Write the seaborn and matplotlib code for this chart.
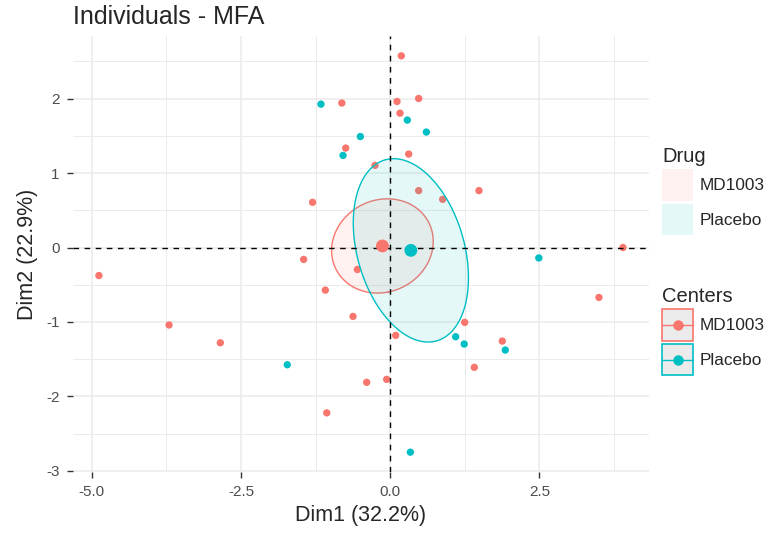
import matplotlib
matplotlib.use("Agg")
import matplotlib.pyplot as plt
import numpy as np
import pandas as pd
import seaborn as sns
from matplotlib.legend_handler import HandlerBase
from matplotlib.lines import Line2D
from matplotlib.patches import Patch, Rectangle

# individual coordinates
md1003_dim1 = [-0.81, -0.745, -1.30, -1.45, 0.186, 0.114, 0.477, 0.164, 0.31, -0.255,
               0.477, 1.487, 0.879, 3.90, -4.88, -0.55, -1.087, -0.623, -3.705, -2.846,
               -1.063, 1.248, 0.092, 1.878, 3.497, 1.409, -0.394, -0.059]
md1003_dim2 = [1.94, 1.335, 0.607, -0.16, 2.574, 1.961, 2.001, 1.804, 1.255, 1.103,
               0.764, 0.764, 0.647, 0.0, -0.376, -0.295, -0.572, -0.925, -1.04, -1.279,
               -2.22, -1.005, -1.18, -1.256, -0.67, -1.609, -1.81, -1.77]
placebo_dim1 = [-1.16, -0.50, -0.79, 0.287, 0.605, 2.49, -1.724, 1.097, 1.24, 1.928, 0.337]
placebo_dim2 = [1.925, 1.49, 1.237, 1.711, 1.55, -0.14, -1.574, -1.198, -1.296, -1.377, -2.748]

drugs = ["MD1003", "Placebo"]
x_ticks = [-5.0, -2.5, 0.0, 2.5]
y_ticks = [-3, -2, -1, 0, 1, 2]
palette = {"MD1003": "#F8766D", "Placebo": "#00BFC4"}

df = pd.DataFrame({
    "Dim1": md1003_dim1 + placebo_dim1,
    "Dim2": md1003_dim2 + placebo_dim2,
    "Drug": ["MD1003"] * len(md1003_dim1) + ["Placebo"] * len(placebo_dim1),
})
centers = df.groupby("Drug")[["Dim1", "Dim2"]].mean().reset_index()


class CenterKey(HandlerBase):
    # grey box with coloured border, line and dot, like the ggplot key
    def create_artists(self, legend, orig_handle, xdescent, ydescent, width, height,
                       fontsize, trans):
        color = orig_handle.get_color()
        x0, y0 = -xdescent, -ydescent
        yc = y0 + height / 2
        box = Rectangle((x0, y0), width, height, facecolor="#EBEBEB", edgecolor=color,
                        lw=1.2, transform=trans)
        line = Line2D([x0, x0 + width], [yc, yc], color=color, lw=1.0, transform=trans)
        dot = Line2D([x0 + width / 2], [yc], color=color, lw=0, marker="o",
                     markersize=7.5, markeredgewidth=0, transform=trans)
        return [box, line, dot]


sns.set_style("white")
plt.rcParams["font.family"] = ["Liberation Sans", "DejaVu Sans"]
plt.rcParams["axes.unicode_minus"] = False

fig, ax = plt.subplots(figsize=(7.81, 5.33), dpi=100)
fig.subplots_adjust(left=72.7 / 781, right=649.2 / 781, top=1 - 36 / 533, bottom=1 - 472 / 533)

sns.scatterplot(data=df, x="Dim1", y="Dim2", hue="Drug", palette=palette, s=28,
                linewidth=0, legend=False, ax=ax, zorder=2)

# 95% confidence ellipses around the group means
chi2_95 = 5.991
t = np.linspace(0, 2 * np.pi, 300)
circle = np.vstack([np.cos(t), np.sin(t)])
for drug in drugs:
    xy = df.loc[df["Drug"] == drug, ["Dim1", "Dim2"]].to_numpy()
    mu = xy.mean(axis=0)
    cov = np.cov(xy.T) / len(xy)
    vals, vecs = np.linalg.eigh(cov)
    pts = mu[:, None] + vecs @ (np.sqrt(vals * chi2_95)[:, None] * circle)
    ax.fill(pts[0], pts[1], facecolor=palette[drug], alpha=0.1, edgecolor="none", zorder=3)
    ax.plot(pts[0], pts[1], color=palette[drug], lw=1.0, zorder=3)

ax.axhline(0, color="black", lw=1.0, ls=(0, (4, 4)), zorder=4)
ax.axvline(0, color="black", lw=1.0, ls=(0, (4, 4)), zorder=4)

sns.scatterplot(data=centers, x="Dim1", y="Dim2", hue="Drug", palette=palette, s=85,
                linewidth=0, legend=False, ax=ax, zorder=5)

# ggplot-like 5% expansion
xr = df["Dim1"].max() - df["Dim1"].min()
yr = df["Dim2"].max() - df["Dim2"].min()
ax.set_xlim(df["Dim1"].min() - 0.05 * xr, df["Dim1"].max() + 0.05 * xr)
ax.set_ylim(df["Dim2"].min() - 0.05 * yr, df["Dim2"].max() + 0.05 * yr)

ax.set_xticks(x_ticks)
ax.set_xticklabels([f"{v:.1f}" for v in x_ticks])
ax.set_yticks(y_ticks)
ax.set_yticklabels([str(v) for v in y_ticks])
ax.set_xticks([-3.75, -1.25, 1.25, 3.75], minor=True)
ax.set_yticks([-2.5, -1.5, -0.5, 0.5, 1.5, 2.5], minor=True)
ax.grid(which="major", color="#EBEBEB", lw=1.1)
ax.grid(which="minor", color="#EBEBEB", lw=0.7)
ax.set_axisbelow(True)
ax.tick_params(which="major", length=4.5, width=1.0, color="#333333", labelsize=11,
               labelcolor="#4D4D4D", pad=5, bottom=True, left=True)
ax.tick_params(which="minor", length=0)
for s in ax.spines.values():
    s.set_visible(False)

ax.set_xlabel("Dim1 (32.2%)", fontsize=15.5, labelpad=4)
ax.set_ylabel("Dim2 (22.9%)", fontsize=15.5, labelpad=6)
ax.set_title("Individuals - MFA", loc="left", fontsize=18, pad=9)

legend_kw = dict(loc="upper left", frameon=False, fontsize=12.4, title_fontsize=14.5,
                 handlelength=1.8, handleheight=2.4, labelspacing=0.2, handletextpad=0.4,
                 borderpad=0, borderaxespad=0, alignment="left")

drug_handles = [Patch(facecolor=palette[d], alpha=0.1, edgecolor="none") for d in drugs]
leg1 = fig.legend(drug_handles, drugs, title="Drug",
                  bbox_to_anchor=(662 / 781, 1 - 147 / 533), **legend_kw)

center_handles = [Line2D([], [], color=palette[d]) for d in drugs]
leg2 = fig.legend(center_handles, drugs, title="Centers",
                  bbox_to_anchor=(662 / 781, 1 - 287 / 533),
                  handler_map={Line2D: CenterKey()}, **legend_kw)

fig.savefig("out.png", dpi=100)
